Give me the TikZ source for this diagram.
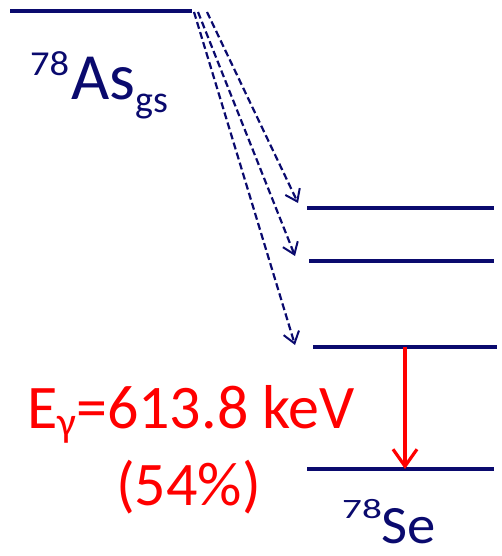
\documentclass[tikz,border=0pt]{standalone}
\usepackage{fontspec}
\setmainfont{Carlito}
\usetikzlibrary{arrows.meta}
\definecolor{navy}{RGB}{10,10,110}
\definecolor{gred}{RGB}{255,0,0}
\tikzset{
  level/.style={navy, line width=3.5pt},
  decay/.style={navy, line width=2.2pt, dash pattern=on 7pt off 3.5pt, -{Straight Barb[length=11pt,width=16pt,line width=2pt]}},
  gamma/.style={gred, line width=3.2pt, -{Straight Barb[length=17pt,width=24pt,line width=3.2pt]}},
  lbl/.style={inner sep=0pt, anchor=base west}
}
\begin{document}
\begin{tikzpicture}[x=1pt,y=-1pt]
\useasboundingbox (0,0) rectangle (501,556);
% levels
\coordinate (gsA) at (10,11);
\coordinate (gsB) at (192,11);
\coordinate (l1A) at (307,208);
\coordinate (l1B) at (494,208);
\coordinate (l2A) at (309,261);
\coordinate (l2B) at (494,261);
\coordinate (l3A) at (313,347);
\coordinate (l3B) at (497,347);
\coordinate (seA) at (307,469);
\coordinate (seB) at (494,469);
\draw[level] (gsA) -- (gsB);
\draw[level] (l1A) -- (l1B);
\draw[level] (l2A) -- (l2B);
\draw[level] (l3A) -- (l3B);
\draw[level] (seA) -- (seB);
% decay branches
\coordinate (s1) at (194,12);
\coordinate (s2) at (198,12);
\coordinate (s3) at (207,12);
\coordinate (e1) at (295,345);
\coordinate (e2) at (295,256);
\coordinate (e3) at (298,203);
\draw[decay] (s1) -- (e1);
\draw[decay] (s2) -- (e2);
\draw[decay] (s3) -- (e3);
% gamma
\coordinate (gTop) at (405,347);
\coordinate (gBot) at (405,469);
\draw[gamma] (gTop) -- (gBot);
% labels
\node[lbl, navy] (as) at (30,100) {\raisebox{24pt}{\scalebox{1.1}[1]{\fontsize{35}{40}\selectfont 78}}\hspace{2pt}\fontsize{66}{72}\selectfont As\raisebox{-13pt}{\fontsize{38}{44}\selectfont gs}};
\node[lbl, gred] (eg) at (27,428) {\fontsize{62}{70}\selectfont E\raisebox{-8pt}{\fontsize{42}{46}\selectfont γ}=613.8 keV};
\node[lbl, gred] (br) at (116,505) {\fontsize{62}{70}\selectfont (54\%)};
\node[lbl, navy] (se) at (342,543) {\raisebox{25pt}{\scalebox{1.4}[1]{\fontsize{28}{32}\selectfont 78}}\scalebox{1.05}[1]{\fontsize{54}{60}\selectfont Se}};
\end{tikzpicture}
\end{document}
